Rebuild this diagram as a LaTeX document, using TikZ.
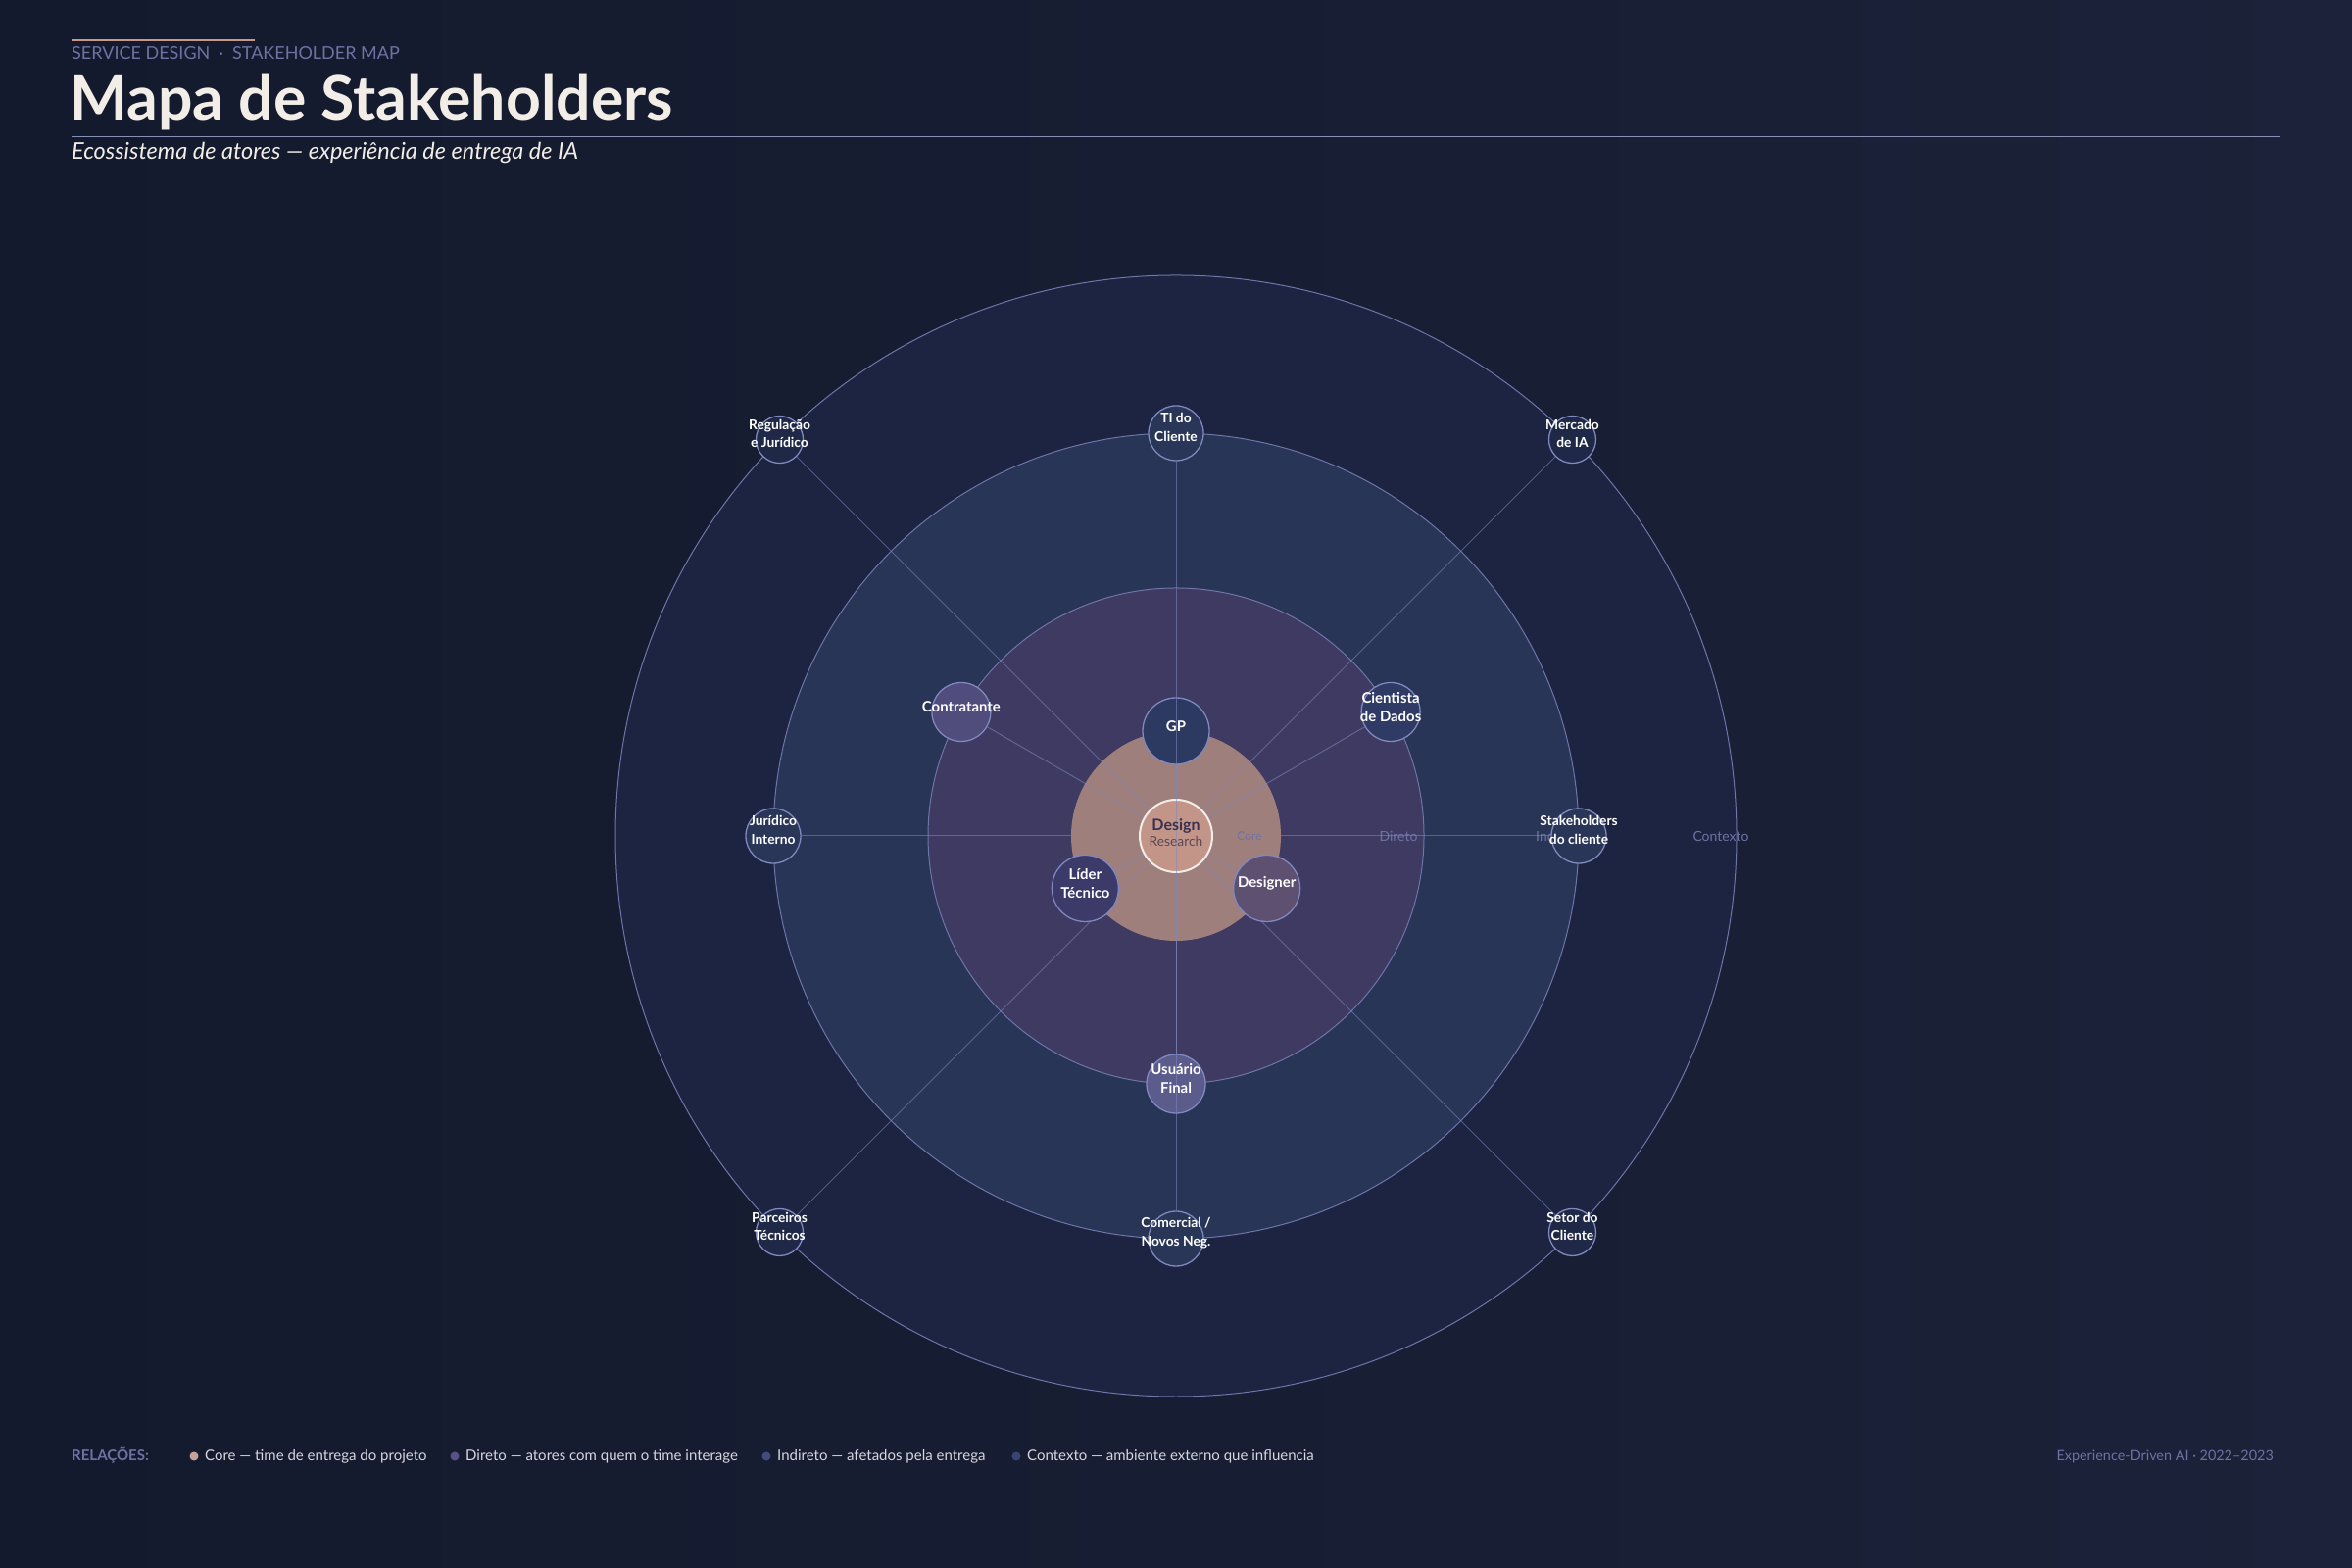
\documentclass[tikz,border=0pt]{standalone}
\usepackage{fontspec}
\setmainfont{Lato}
\usetikzlibrary{calc}
\pgfdeclarelayer{bgl}
\pgfdeclarelayer{spk}
\pgfdeclarelayer{over}
\pgfdeclarelayer{lbl}
\pgfsetlayers{bgl,spk,main,over,lbl}
\definecolor{bgA}{HTML}{131A2D}
\definecolor{bgB}{HTML}{1B2239}
\definecolor{ctxF}{HTML}{1C2441}
\definecolor{indF}{HTML}{293556}
\definecolor{dirF}{HTML}{3E3A62}
\definecolor{coreF}{HTML}{9E7F7C}
\definecolor{drF}{HTML}{C9998A}
\definecolor{ringL}{HTML}{6E75AA}
\definecolor{nodeL}{HTML}{8088C0}
\definecolor{muted}{HTML}{6E72A3}
\definecolor{cream}{HTML}{F2EDE6}
\definecolor{salmon}{HTML}{C8998A}
\definecolor{ruleC}{HTML}{8A90B5}
\definecolor{legT}{HTML}{D8D6DF}
\definecolor{gpF}{HTML}{2C3A62}
\definecolor{liderF}{HTML}{3B3A68}
\definecolor{designerF}{HTML}{5E5070}
\definecolor{contrF}{HTML}{504C7C}
\definecolor{cientF}{HTML}{2F3B64}
\definecolor{usuF}{HTML}{5B5B8C}
\definecolor{indN}{HTML}{2A3658}
\definecolor{ctxN}{HTML}{1F2846}
\definecolor{dotCore}{HTML}{C8A096}
\definecolor{dotDir}{HTML}{5C4F8A}
\definecolor{dotInd}{HTML}{414B7E}
\definecolor{dotCtx}{HTML}{3A4470}
\definecolor{designT}{HTML}{3A3050}
\definecolor{researchT}{HTML}{5A4858}
\tikzset{
  ringdisk/.style={draw=ringL, line width=1bp},
  spoke/.style={draw=nodeL, line width=1bp, draw opacity=.55},
  actor/.style={circle, draw=nodeL, line width=1.3bp, inner sep=0pt},
  corenode/.style={actor, minimum size=68bp},
  dirnode/.style={actor, minimum size=60bp},
  indnode/.style={actor, fill=indN, minimum size=56bp},
  ctxnode/.style={actor, fill=ctxN, minimum size=48bp},
  innerlbl/.style={text=white, align=center, inner sep=0pt, font=\fontsize{14.9bp}{19bp}\selectfont\bfseries},
  outerlbl/.style={text=white, align=center, inner sep=0pt, font=\fontsize{13.8bp}{18.4bp}\selectfont\bfseries},
  ringlbl/.style={text=muted, inner sep=0pt, font=\fontsize{14bp}{16bp}\selectfont},
  legtxt/.style={text=legT, anchor=base west, inner sep=0pt, font=\fontsize{15bp}{17bp}\selectfont},
  legdot/.style={circle, inner sep=0pt, minimum size=9bp}
}
\begin{document}
\begin{tikzpicture}[x=1bp,y=1bp]
\useasboundingbox (0,0) rectangle (2400,1600);
\coordinate (C) at (1200,747);
\begin{pgfonlayer}{bgl}
  \shade[left color=bgA, right color=bgB] (0,0) rectangle (2400,1600);
  % rings
  \filldraw[ringdisk, fill=ctxF] (C) circle (572bp);
  \filldraw[ringdisk, fill=indF] (C) circle (411bp);
  \filldraw[ringdisk, fill=dirF] (C) circle (253bp);
  \fill[coreF] (C) circle (107bp);
  % ring labels
  \node[ringlbl, font=\fontsize{12bp}{14bp}\selectfont] (lcore) at (1275,747) {Core};
  \node[ringlbl] (ldir) at (1427,747) {Direto};
  \node[ringlbl, anchor=west] (lind) at (1567,747) {Indireto};
  \node[ringlbl] (lctx) at (1756,747) {Contexto};
  % header
  \draw[salmon, line width=2bp] (73,1559) -- (260,1559);
  \node[anchor=base west, inner sep=0pt, text=muted, font=\fontsize{18bp}{21bp}\selectfont] (eyebrow) at (73,1539) {SERVICE DESIGN\hspace{9bp}·\hspace{9bp}STAKEHOLDER MAP};
  \node[anchor=base west, inner sep=0pt, text=cream, font=\fontsize{62.5bp}{66bp}\selectfont\bfseries] (title) at (71,1477) {Mapa de Stakeholders};
  \draw[ruleC, line width=1bp] (73,1460) -- (2327,1460);
  \node[anchor=base west, inner sep=0pt, text=cream, font=\fontsize{23.5bp}{27bp}\selectfont\itshape] (subtitle) at (73,1437) {Ecossistema de atores — experiência de entrega de IA};
  % legend
  \node[anchor=base west, inner sep=0pt, text=muted, font=\fontsize{15bp}{17bp}\selectfont\bfseries] (rel) at (73,109) {RELAÇÕES:};
  \node[legdot, fill=dotCore] (d1) at (198,114) {};
  \node[legtxt] (t1) at (209,109) {Core — time de entrega do projeto};
  \node[legdot, fill=dotDir] (d2) at (464,114) {};
  \node[legtxt] (t2) at (475,109) {Direto — atores com quem o time interage};
  \node[legdot, fill=dotInd] (d3) at (782,114) {};
  \node[legtxt] (t3) at (793,109) {Indireto — afetados pela entrega};
  \node[legdot, fill=dotCtx] (d4) at (1037,114) {};
  \node[legtxt] (t4) at (1048,109) {Contexto — ambiente externo que influencia};
  \node[anchor=base east, inner sep=0pt, text=muted, font=\fontsize{14.4bp}{16bp}\selectfont] (foot) at (2320,109) {Experience-Driven AI · 2022–2023};
\end{pgfonlayer}

% nodes
\node[corenode, fill=gpF] (gp) at ($(C)+(90:107)$) {};
\node[corenode, fill=liderF] (lider) at ($(C)+(210:107)$) {};
\node[corenode, fill=designerF] (designer) at ($(C)+(330:107)$) {};
\node[dirnode, fill=contrF] (contr) at ($(C)+(150:253)$) {};
\node[dirnode, fill=cientF] (cient) at ($(C)+(30:253)$) {};
\node[dirnode, fill=usuF] (usu) at ($(C)+(270:253)$) {};
\node[indnode] (ti) at ($(C)+(90:411)$) {};
\node[indnode] (stk) at ($(C)+(0:411)$) {};
\node[indnode] (com) at ($(C)+(270:411)$) {};
\node[indnode] (jur) at ($(C)+(180:411)$) {};
\node[ctxnode] (reg) at ($(C)+(135:572)$) {};
\node[ctxnode] (merc) at ($(C)+(45:572)$) {};
\node[ctxnode] (parc) at ($(C)+(225:572)$) {};
\node[ctxnode] (setor) at ($(C)+(315:572)$) {};
\node[circle, inner sep=0pt, minimum size=74bp, fill=drF, fill opacity=.88, draw=cream, line width=2bp] (dr) at (C) {};

% spokes
\begin{pgfonlayer}{spk}
  \foreach \n in {lider,designer,contr,cient,usu,stk,jur,reg,merc,parc,setor,gp}
    \draw[spoke] (C) -- (\n);
\end{pgfonlayer}
\begin{pgfonlayer}{over}
  \draw[spoke] (C) -- (ti);
  \draw[spoke] (C) -- (com);
\end{pgfonlayer}

% labels
\begin{pgfonlayer}{lbl}
  \node[innerlbl] (gpT) at ($(gp)+(0,5)$) {GP};
  \node[innerlbl] (liderT) at ($(lider)+(0,5)$) {Líder\\Técnico};
  \node[innerlbl] (designerT) at ($(designer)+(0,5)$) {Designer};
  \node[innerlbl] (contrT) at ($(contr)+(0,5)$) {Contratante};
  \node[innerlbl] (cientT) at ($(cient)+(0,5)$) {Cientista\\de Dados};
  \node[innerlbl] (usuT) at ($(usu)+(0,5)$) {Usuário\\Final};
  \node[outerlbl] (tiT) at ($(ti)+(0,6)$) {TI do\\Cliente};
  \node[outerlbl] (stkT) at ($(stk)+(0,6)$) {Stakeholders\\do cliente};
  \node[outerlbl] (comT) at ($(com)+(0,6)$) {Comercial /\\Novos Neg.};
  \node[outerlbl] (jurT) at ($(jur)+(0,6)$) {Jurídico\\Interno};
  \node[outerlbl] (regT) at ($(reg)+(0,6)$) {Regulação\\e Jurídico};
  \node[outerlbl] (mercT) at ($(merc)+(0,6)$) {Mercado\\de IA};
  \node[outerlbl] (parcT) at ($(parc)+(0,6)$) {Parceiros\\Técnicos};
  \node[outerlbl] (setorT) at ($(setor)+(0,6)$) {Setor do\\Cliente};
  \node[align=center, inner sep=0pt] (drT) at ($(dr)+(0,3)$) {{\fontsize{16bp}{18bp}\selectfont\bfseries\color{designT}Design}\\[2bp]{\fontsize{13.8bp}{16bp}\selectfont\color{researchT}Research}};
\end{pgfonlayer}
\end{tikzpicture}
\end{document}
